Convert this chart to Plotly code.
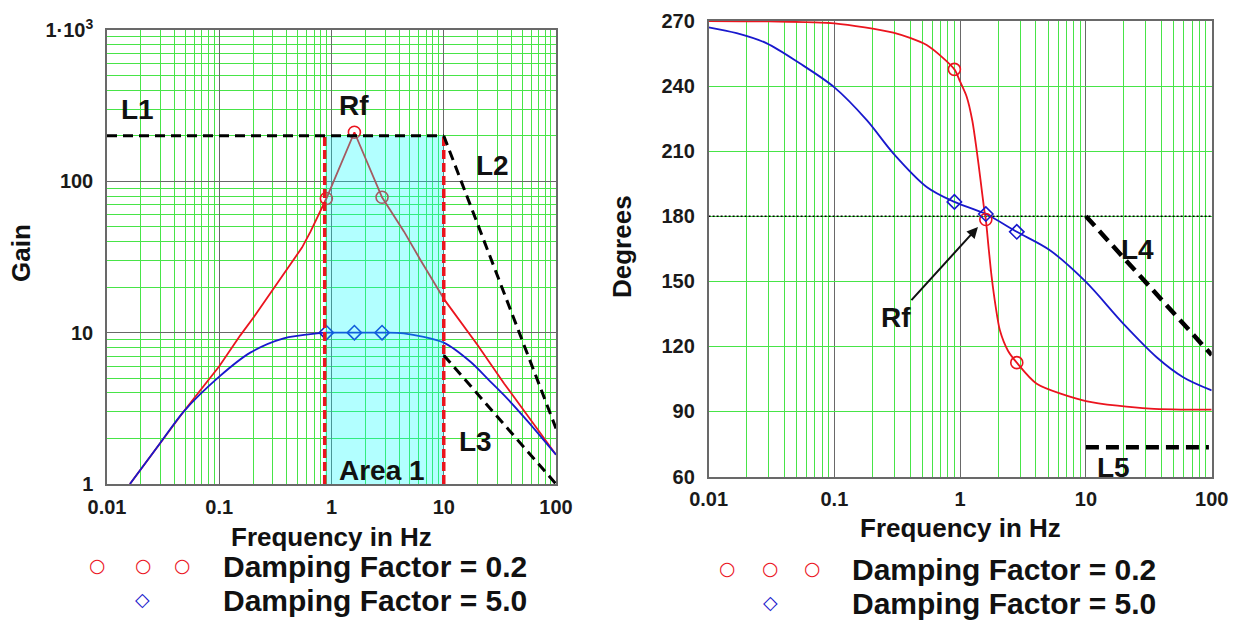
import math
import plotly.graph_objects as go

W, H = 1242, 626

# ---------------- data ----------------
# Gain plot (log-log)
gain_blue_f = [0.016, 0.0297, 0.048, 0.1, 0.189, 0.375, 0.745, 0.9, 1.6, 2.82, 4.4, 10, 17.4, 25, 34.6, 55.8, 100]
gain_blue = [1.0, 1.86, 3.0, 5.12, 7.38, 9.18, 9.9, 10.0, 10.0, 10.0, 9.9, 8.6, 6.4, 4.9, 3.85, 2.6, 1.56]
gain_red_f = [0.016, 0.0297, 0.048, 0.1, 0.154, 0.205, 0.339, 0.45, 0.546, 0.65, 0.75, 0.9, 1.6, 2.82, 4.43, 6.24, 10.2, 20, 34.6, 48.8, 70, 100]
gain_red = [1.0, 1.86, 3.0, 6.0, 9.6, 12.8, 22.0, 29.5, 36.5, 46.5, 58.0, 77.0, 211.0, 78.5, 46.5, 30.0, 16.4, 8.3, 4.6, 3.27, 2.25, 1.56]

# Phase plot (log-x)
phase_red_f = [0.01, 0.03, 0.1, 0.294, 0.542, 0.9, 1.0, 1.127, 1.25, 1.353, 1.45, 1.55, 1.6, 1.68, 1.78, 1.92, 2.07, 2.4, 2.82, 4.06, 10, 32.3, 100]
phase_red = [270, 269.8, 268.9, 264.6, 258.9, 247.7, 242, 235.1, 224, 210.5, 197, 183.5, 178.5, 166, 152, 138, 127.4, 118, 112.5, 102.8, 94.8, 91.3, 90.8]
phase_blue_f = [0.01, 0.0167, 0.029, 0.053, 0.1, 0.181, 0.294, 0.542, 0.9, 1.6, 2.82, 5.17, 10, 19.8, 36.5, 59.3, 100]
phase_blue = [267.1, 264.4, 259.7, 250.5, 239.4, 224.3, 209, 193.5, 186.6, 181, 172.8, 164.3, 149.7, 130.5, 115, 105.8, 99.7]

# Marker points
mk_f = [0.9, 1.6, 2.82]
mk_gain_red = [77.0, 211.0, 78.5]
mk_gain_blue = [10.0, 10.0, 10.0]
mk_phase_red = [247.7, 178.5, 112.5]
mk_phase_blue = [186.6, 181.0, 172.8]

# Reference / construction lines
L1_f, L1_gain = [0.01, 10], [200, 200]
L2_f, L2_gain = [10, 100], [200, 2.33]
L3_f, L3_gain = [10, 100], [7.1, 1.0]
area_f = [0.87, 10]
area_gain = [1, 200]
L4_f, L4_deg = [10, 100], [180, 116]
L5_f, L5_deg = [10, 95], [73.5, 73.5]
ref_f, ref_deg = [0.01, 100], [180, 180]
rf_arrow_f, rf_arrow_deg = 1.385, 175

# Ticks
x_ticks = [0.01, 0.1, 1, 10, 100]
x_ticktext = ["0.01", "0.1", "1", "10", "100"]
gain_ticks = [1, 10, 100, 1000]
gain_ticktext = ["1", "10", "100", "1\u00b710<sup>3</sup>"]
deg_ticks = [60, 90, 120, 150, 180, 210, 240, 270]
minor_digits = [2, 3, 4, 5, 6, 7, 8, 9]
x_minor = [d * 10.0 ** e for e in range(-2, 2) for d in minor_digits]
gain_minor = [d * 10.0 ** e for e in range(0, 3) for d in minor_digits]

# ---------------- styling ----------------
RED = "rgb(235,20,30)"
BLUE = "rgb(25,25,205)"
GREEN = "rgb(72,228,72)"
DARK = "rgb(105,105,105)"
FONT = "Arial, Liberation Sans, sans-serif"

fig = go.Figure()

# Gain curves
fig.add_trace(go.Scatter(x=gain_red_f, y=gain_red, mode="lines",
                         line=dict(color=RED, width=1.8), xaxis="x", yaxis="y"))
fig.add_trace(go.Scatter(x=gain_blue_f, y=gain_blue, mode="lines",
                         line=dict(color=BLUE, width=1.8, shape="spline", smoothing=0.8),
                         xaxis="x", yaxis="y"))
fig.add_trace(go.Scatter(x=mk_f, y=mk_gain_red, mode="markers",
                         marker=dict(symbol="circle-open", size=12, color=RED, line=dict(width=1.6)),
                         xaxis="x", yaxis="y"))
fig.add_trace(go.Scatter(x=mk_f, y=mk_gain_blue, mode="markers",
                         marker=dict(symbol="diamond-open", size=11, color=BLUE, line=dict(width=1.6)),
                         xaxis="x", yaxis="y"))
# Area 1 (translucent, above curves)
fig.add_trace(go.Scatter(x=[area_f[0], area_f[1], area_f[1], area_f[0], area_f[0]],
                         y=[area_gain[0], area_gain[0], area_gain[1], area_gain[1], area_gain[0]],
                         mode="lines", fill="toself", fillcolor="rgba(0,255,255,0.30)",
                         line=dict(width=0), xaxis="x", yaxis="y"))
# Red dashed boundaries
for fx in area_f:
    fig.add_trace(go.Scatter(x=[fx, fx], y=area_gain, mode="lines",
                             line=dict(color=RED, width=3.5, dash="9px,4px"), xaxis="x", yaxis="y"))
# Black dashed asymptotes
for fx, gy in [(L1_f, L1_gain), (L2_f, L2_gain), (L3_f, L3_gain)]:
    fig.add_trace(go.Scatter(x=fx, y=gy, mode="lines",
                             line=dict(color="black", width=3, dash="10px,6px"), xaxis="x", yaxis="y"))

# Phase plot
fig.add_trace(go.Scatter(x=ref_f, y=ref_deg, mode="lines",
                         line=dict(color="black", width=1.5, dash="2px,2px"), xaxis="x2", yaxis="y2"))
fig.add_trace(go.Scatter(x=phase_red_f, y=phase_red, mode="lines",
                         line=dict(color=RED, width=1.8, shape="spline", smoothing=0.7),
                         xaxis="x2", yaxis="y2"))
fig.add_trace(go.Scatter(x=phase_blue_f, y=phase_blue, mode="lines",
                         line=dict(color=BLUE, width=1.8, shape="spline", smoothing=0.9),
                         xaxis="x2", yaxis="y2"))
fig.add_trace(go.Scatter(x=mk_f, y=mk_phase_red, mode="markers",
                         marker=dict(symbol="circle-open", size=12, color=RED, line=dict(width=1.6)),
                         xaxis="x2", yaxis="y2"))
fig.add_trace(go.Scatter(x=mk_f, y=mk_phase_blue, mode="markers",
                         marker=dict(symbol="diamond-open", size=11, color=BLUE, line=dict(width=1.6)),
                         xaxis="x2", yaxis="y2"))
for fx, dy in [(L4_f, L4_deg), (L5_f, L5_deg)]:
    fig.add_trace(go.Scatter(x=fx, y=dy, mode="lines",
                             line=dict(color="black", width=4.5, dash="13px,7px"), xaxis="x2", yaxis="y2"))


def px(xp):
    return xp / W


def py(yp):
    return 1 - yp / H


tickfont = dict(family=FONT, size=20, color="#1a1a1a", weight="bold")
common_x = dict(type="log", range=[-2, 2], tickvals=x_ticks, ticktext=x_ticktext,
                showgrid=True, gridcolor=DARK, gridwidth=1.3, zeroline=False,
                showline=True, mirror=True, linecolor=DARK, linewidth=1.5,
                ticks="", tickfont=tickfont, ticklabelstandoff=4, automargin=False,
                minor=dict(tickvals=x_minor, showgrid=True, gridcolor=GREEN, gridwidth=1.4, ticks=""))

fig.update_layout(
    width=W, height=H, margin=dict(l=0, r=0, t=0, b=0, autoexpand=False),
    paper_bgcolor="white", plot_bgcolor="white", showlegend=False,
    xaxis=dict(domain=[px(107), px(556)], anchor="y", **common_x),
    yaxis=dict(domain=[py(484), py(30)], anchor="x", type="log", range=[0, 3],
               tickvals=gain_ticks, ticktext=gain_ticktext,
               showgrid=True, gridcolor=DARK, gridwidth=1.3, zeroline=False,
               showline=True, mirror=True, linecolor=DARK, linewidth=1.5,
               ticks="", tickfont=tickfont, ticklabelstandoff=8, automargin=False,
               minor=dict(tickvals=gain_minor, showgrid=True, gridcolor=GREEN, gridwidth=1.4, ticks="")),
    xaxis2=dict(domain=[px(708.6), px(1211.7)], anchor="y2", **common_x),
    yaxis2=dict(domain=[py(476.5), py(21)], anchor="x2", range=[60, 270],
                tickvals=deg_ticks, showgrid=True, gridcolor=GREEN, gridwidth=1.4, zeroline=False,
                showline=True, mirror=True, linecolor=DARK, linewidth=1.5,
                ticks="", tickfont=tickfont, ticklabelstandoff=8, automargin=False),
)

ann = []


def label(text, x, y, size=28, color="#111", angle=0, xanchor="center", family=FONT, weight="bold"):
    ann.append(dict(text=text, x=px(x), y=py(y), xref="paper", yref="paper",
                    xanchor=xanchor, yanchor="middle", showarrow=False, textangle=angle,
                    font=dict(family=family, size=size, color=color, weight=weight)))


# Left plot labels
label("L1", 137, 110)
label("Rf", 354, 106)
label("L2", 492, 165)
label("L3", 475, 441)
label("Area 1", 382, 470)
label("Gain", 21, 253, size=26, angle=-90)
label("Frequency in Hz", 331, 537, size=26)
# Right plot labels
label("L4", 1137, 249)
label("L5", 1113, 467)
label("Degrees", 622, 247, size=26, angle=-90)
label("Frequency in Hz", 960, 528, size=26)

# Legends
for xx in [97, 143, 182]:
    label("\u25cb", xx, 565, size=19, color=RED, family="DejaVu Sans", weight="normal")
label("\u25c7", 142, 599, size=19, color=BLUE, family="DejaVu Sans", weight="normal")
label("Damping Factor = 0.2", 221, 566, size=30, xanchor="left")
label("Damping Factor = 5.0", 221, 600, size=30, xanchor="left")
for xx in [727, 770, 812]:
    label("\u25cb", xx, 568, size=19, color=RED, family="DejaVu Sans", weight="normal")
label("\u25c7", 770, 602, size=19, color=BLUE, family="DejaVu Sans", weight="normal")
label("Damping Factor = 0.2", 850, 569, size=30, xanchor="left")
label("Damping Factor = 5.0", 850, 603, size=30, xanchor="left")

# "Rf" label with arrow pointing at the resonance crossing
ann.append(dict(text="Rf", x=math.log10(rf_arrow_f), y=rf_arrow_deg, xref="x2", yref="y2",
                ax=-82, ay=90, axref="pixel", ayref="pixel", showarrow=True,
                arrowhead=2, arrowsize=1.1, arrowwidth=2, arrowcolor="#111",
                font=dict(family=FONT, size=28, color="#111", weight="bold")))

fig.update_layout(annotations=ann)
fig.write_html("out.html")
